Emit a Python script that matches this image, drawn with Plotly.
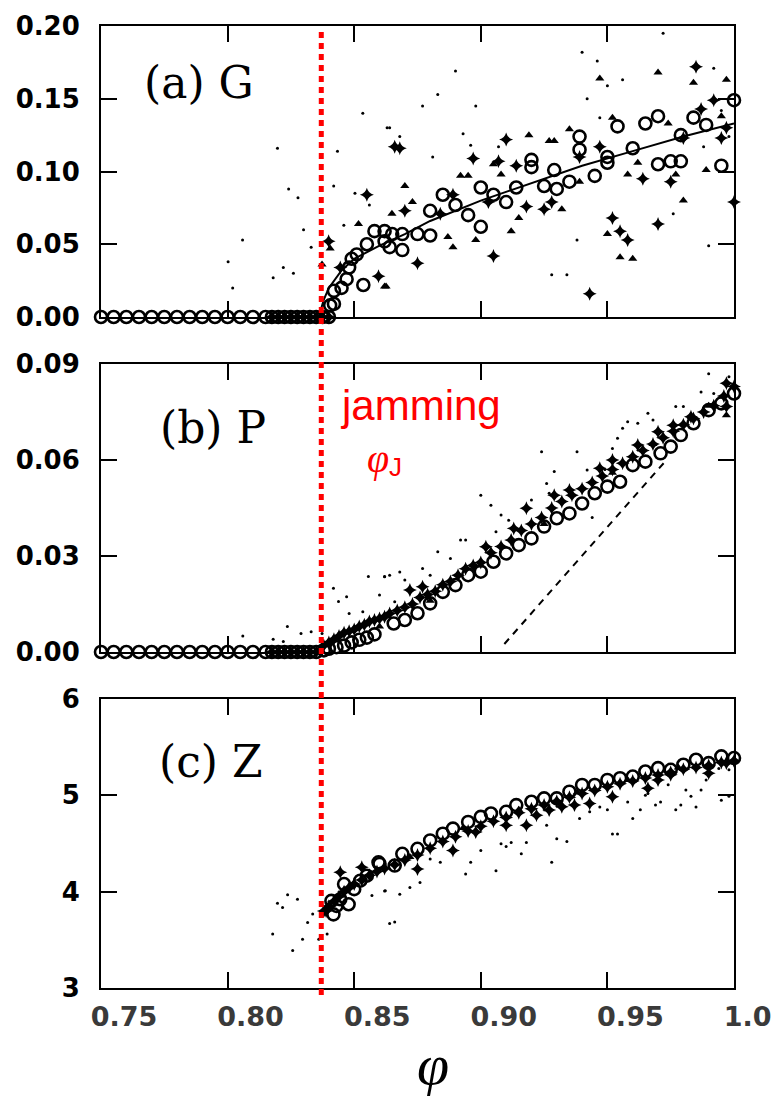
import plotly.graph_objects as go

# ---------------- Panel (a) G ----------------
a_circ_x = [0.750, 0.755, 0.760, 0.765, 0.770, 0.775, 0.780, 0.785, 0.790, 0.795, 0.800, 0.805,
            0.810, 0.815, 0.8175, 0.820, 0.8225, 0.825, 0.8275, 0.830, 0.8325, 0.835, 0.8375, 0.840,
            0.8405, 0.842, 0.842, 0.845, 0.847, 0.848, 0.849, 0.851, 0.8536, 0.855, 0.858, 0.862, 0.865,
            0.862, 0.864, 0.869, 0.869, 0.875, 0.880, 0.880, 0.885, 0.890, 0.895, 0.900, 0.900,
            0.905, 0.910, 0.914, 0.920, 0.920, 0.925, 0.929, 0.930, 0.935, 0.939, 0.939, 0.945,
            0.950, 0.950, 0.954, 0.960, 0.965, 0.970, 0.970, 0.975, 0.979, 0.979, 0.984, 0.989,
            0.995, 1.000]
a_circ_y = [0, 0, 0, 0, 0, 0, 0, 0, 0, 0, 0, 0,
            0, 0, 0, 0, 0, 0, 0, 0, 0, 0, 0, 0,
            0.008, 0.009, 0.018, 0.020, 0.026, 0.034, 0.040, 0.043, 0.022, 0.050, 0.059, 0.052, 0.057,
            0.059, 0.048, 0.046, 0.057, 0.057, 0.056, 0.073, 0.084, 0.077, 0.070, 0.089, 0.062,
            0.084, 0.079, 0.089, 0.108, 0.103, 0.090, 0.101, 0.088, 0.093, 0.124, 0.115, 0.097,
            0.110, 0.106, 0.131, 0.116, 0.133, 0.138, 0.105, 0.107, 0.107, 0.125, 0.137, 0.132,
            0.104, 0.149]

a_tri_x = [0.8373, 0.8405, 0.8517, 0.8626, 0.8649, 0.862, 0.870, 0.873, 0.887, 0.889, 0.892, 0.895,
           0.898, 0.905, 0.908, 0.912, 0.915, 0.919, 0.927, 0.929, 0.932, 0.935, 0.939, 0.947,
           0.950, 0.952, 0.955, 0.958, 0.960, 0.962, 0.970, 0.974, 0.977, 0.980, 0.984, 0.989,
           0.995, 0.997]
a_tri_y = [0.036, 0.047, 0.064, 0.021, 0.071, 0.021, 0.090, 0.079, 0.055, 0.048, 0.097, 0.097,
           0.053, 0.105, 0.098, 0.059, 0.068, 0.125, 0.121, 0.121, 0.074, 0.129, 0.093, 0.164,
           0.057, 0.137, 0.041, 0.098, 0.040, 0.106, 0.168, 0.133, 0.098, 0.080, 0.161, 0.101,
           0.138, 0.163]

a_cross_x = [0.8175, 0.820, 0.8225, 0.825, 0.8275, 0.830, 0.8325, 0.835, 0.8375, 0.840,
             0.8399, 0.8445, 0.8596, 0.855, 0.866, 0.868, 0.870, 0.875, 0.884, 0.889, 0.897,
             0.903, 0.905, 0.907, 0.910, 0.914, 0.918, 0.925, 0.928, 0.939, 0.943, 0.947,
             0.952, 0.955, 0.958, 0.964, 0.970, 0.975, 0.980, 0.985, 0.987, 0.992, 0.995,
             0.997, 1.000]
a_cross_y = [0, 0, 0, 0, 0, 0, 0, 0, 0, 0,
             0.052, 0.034, 0.028, 0.084, 0.117, 0.116, 0.073, 0.037, 0.071, 0.084, 0.109,
             0.079, 0.042, 0.107, 0.122, 0.104, 0.076, 0.074, 0.079, 0.110, 0.016, 0.117,
             0.068, 0.059, 0.053, 0.095, 0.064, 0.093, 0.123, 0.172, 0.143, 0.149, 0.123,
             0.130, 0.079]

a_dot_x = [0.8534, 0.863, 0.8434, 0.8419, 0.8241, 0.8278, 0.8197, 0.8059, 0.830, 0.833, 0.8002,
           0.802, 0.818, 0.822, 0.826, 0.8459, 0.8503, 0.856, 0.864, 0.868, 0.877, 0.883,
           0.890, 0.898, 0.881, 0.893, 0.896, 0.907, 0.940, 0.946, 0.950, 0.956, 0.942,
           0.928, 0.934, 0.938, 0.972, 0.976, 0.990, 0.992, 0.988, 0.995, 0.998, 0.947]
a_dot_y = [0.140, 0.130, 0.114, 0.090, 0.088, 0.082, 0.116, 0.053, 0.060, 0.048, 0.038,
           0.020, 0.027, 0.034, 0.030, 0.063, 0.085, 0.077, 0.130, 0.124, 0.145, 0.153,
           0.169, 0.145, 0.110, 0.126, 0.118, 0.117, 0.182, 0.176, 0.159, 0.163, 0.150,
           0.029, 0.029, 0.053, 0.195, 0.071, 0.049, 0.171, 0.117, 0.142, 0.124, 0.137]

a_fit_x = [0.836, 0.838, 0.840, 0.845, 0.850, 0.860, 0.870, 0.880, 0.900, 0.920, 0.940, 0.960, 0.980, 1.000]
a_fit_y = [0.000, 0.012, 0.020, 0.032, 0.040, 0.049, 0.057, 0.066, 0.080, 0.092, 0.104, 0.114, 0.124, 0.133]

# ---------------- Panel (b) P ----------------
b_circ_x = [0.750, 0.755, 0.760, 0.765, 0.770, 0.775, 0.780, 0.785, 0.790, 0.795, 0.800, 0.805,
            0.810, 0.815, 0.8175, 0.820, 0.8225, 0.825, 0.8275, 0.830, 0.8325, 0.835,
            0.838, 0.840, 0.843, 0.846, 0.849, 0.852, 0.855, 0.858, 0.8656, 0.870, 0.875, 0.880,
            0.885, 0.890, 0.895, 0.900, 0.905, 0.910, 0.915, 0.920, 0.925, 0.930, 0.935, 0.940,
            0.945, 0.950, 0.955, 0.960, 0.965, 0.971, 0.975, 0.979, 0.984, 0.990, 0.995, 1.000]
b_circ_y = [0, 0, 0, 0, 0, 0, 0, 0, 0, 0, 0, 0,
            0, 0, 0, 0, 0, 0, 0, 0, 0, 0,
            0.0005, 0.001, 0.0015, 0.002, 0.003, 0.0038, 0.0045, 0.0055, 0.0089, 0.0100, 0.0121, 0.0152,
            0.0188, 0.0209, 0.0240, 0.0251, 0.0282, 0.0308, 0.0334, 0.0355, 0.0392, 0.0418, 0.0433, 0.0464,
            0.0496, 0.0517, 0.0532, 0.0584, 0.0595, 0.0621, 0.0642, 0.0678, 0.0715, 0.0756, 0.0777, 0.0808]

b_cross_x = [0.8175, 0.820, 0.8225, 0.825, 0.8275, 0.830, 0.8325, 0.835,
             0.838, 0.840, 0.842, 0.844, 0.846, 0.848, 0.850, 0.852, 0.854, 0.856, 0.858, 0.860,
             0.862, 0.864, 0.867, 0.870, 0.873, 0.876, 0.879, 0.882, 0.885, 0.888, 0.891, 0.894,
             0.897, 0.900, 0.904, 0.908, 0.912, 0.916, 0.920, 0.924, 0.928, 0.932, 0.936, 0.940,
             0.944, 0.948, 0.952, 0.956, 0.960, 0.964, 0.968, 0.972, 0.976, 0.980, 0.984, 0.988,
             0.992, 0.996, 1.000,
             0.872, 0.877, 0.902, 0.913, 0.918, 0.929, 0.935, 0.947, 0.952, 0.962, 0.970, 0.976,
             0.983, 0.997, 0.997]
b_cross_y = [0, 0, 0, 0, 0, 0, 0, 0,
             0.002, 0.003, 0.004, 0.005, 0.006, 0.0065, 0.007, 0.008, 0.0085, 0.0095, 0.010, 0.0105,
             0.011, 0.012, 0.013, 0.014, 0.015, 0.017, 0.018, 0.019, 0.021, 0.022, 0.024, 0.026,
             0.027, 0.028, 0.031, 0.033, 0.035, 0.038, 0.040, 0.042, 0.045, 0.047, 0.049, 0.051,
             0.053, 0.055, 0.057, 0.059, 0.061, 0.063, 0.065, 0.067, 0.069, 0.071, 0.073, 0.075,
             0.077, 0.080, 0.083,
             0.0194, 0.0204, 0.0329, 0.0386, 0.0449, 0.0490, 0.0506, 0.0574, 0.0600, 0.0647, 0.0688, 0.0709,
             0.0735, 0.0840, 0.0767]

b_tri_x = [0.997, 0.990, 0.968, 0.952, 0.925, 0.900, 0.880, 0.860]
b_tri_y = [0.0740, 0.0770, 0.0650, 0.0560, 0.0400, 0.0270, 0.0160, 0.0080]

b_dot_x = [0.990, 0.998, 0.987, 0.992, 0.977, 0.980, 0.966, 0.958, 0.962, 0.968, 0.956, 0.954,
           0.952, 0.942, 0.938, 0.924, 0.929, 0.926, 0.927, 0.920, 0.900, 0.904, 0.908, 0.911,
           0.906, 0.892, 0.894, 0.883, 0.888, 0.877, 0.880, 0.868, 0.862, 0.864, 0.870, 0.866,
           0.944, 0.949, 0.8418, 0.8438, 0.847, 0.8556, 0.862, 0.8534, 0.848, 0.8373,
           0.8236, 0.806, 0.818, 0.822, 0.829, 0.833, 0.860]
b_dot_y = [0.0870, 0.0860, 0.0813, 0.0808, 0.0767, 0.0767, 0.0746, 0.0720, 0.0715, 0.0725, 0.0699, 0.0668,
           0.0636, 0.0569, 0.0626, 0.0626, 0.0564, 0.0527, 0.0496, 0.0475, 0.0490, 0.0459, 0.0428, 0.0412,
           0.0376, 0.0350, 0.0350, 0.0313, 0.0292, 0.0261, 0.0240, 0.0250, 0.0235, 0.0240, 0.0225, 0.0157,
           0.0420, 0.0570, 0.0199, 0.0158, 0.0173, 0.0236, 0.0236, 0.0126, 0.0120, 0.0058,
           0.0080, 0.0050, 0.0040, 0.0033, 0.0058, 0.0063, 0.0178]

b_dash_x = [0.9093, 0.9722]
b_dash_y = [0.0025, 0.0590]

# ---------------- Panel (c) Z ----------------
c_circ_x = [0.8418, 0.841, 0.843, 0.8445, 0.846, 0.8478, 0.850, 0.8524, 0.855, 0.8596,
            0.860, 0.866, 0.869, 0.875, 0.880, 0.885, 0.889, 0.895, 0.900, 0.904, 0.910, 0.914,
            0.920, 0.925, 0.930, 0.935, 0.940, 0.945, 0.950, 0.955, 0.960, 0.965, 0.970, 0.975,
            0.980, 0.985, 0.990, 0.995, 1.000]
c_circ_y = [3.764, 3.904, 3.852, 3.921, 4.079, 3.869, 4.026, 4.114, 4.166, 4.305,
            4.288, 4.271, 4.393, 4.445, 4.532, 4.602, 4.655, 4.724, 4.777, 4.812, 4.829, 4.899,
            4.934, 4.969, 4.969, 5.038, 5.108, 5.108, 5.160, 5.178, 5.195, 5.248, 5.283, 5.265,
            5.318, 5.370, 5.335, 5.405, 5.387]

c_cross_x = [0.838, 0.840, 0.842, 0.844, 0.846, 0.848, 0.850, 0.853, 0.856, 0.859, 0.862, 0.866,
             0.870, 0.875, 0.880, 0.885, 0.890, 0.895, 0.900, 0.905, 0.910, 0.915, 0.920, 0.925,
             0.930, 0.935, 0.940, 0.945, 0.950, 0.955, 0.960, 0.965, 0.970, 0.975, 0.980, 0.985,
             0.990, 0.995, 1.000,
             0.8389, 0.8445, 0.853, 0.875, 0.889, 0.898, 0.910, 0.918, 0.922, 0.927, 0.932, 0.937,
             0.943, 0.952, 0.966, 0.970, 0.975, 0.990, 0.997]
c_cross_y = [3.80, 3.85, 3.90, 3.95, 4.00, 4.04, 4.08, 4.12, 4.17, 4.21, 4.24, 4.28,
             4.33, 4.38, 4.45, 4.52, 4.57, 4.63, 4.68, 4.73, 4.77, 4.82, 4.86, 4.90,
             4.94, 4.98, 5.02, 5.05, 5.09, 5.12, 5.15, 5.18, 5.21, 5.24, 5.27, 5.29,
             5.31, 5.34, 5.36,
             3.799, 4.201, 4.253, 4.236, 4.428, 4.619, 4.690, 4.690, 4.794, 4.847, 4.882, 4.899,
             4.916, 4.986, 5.073, 5.160, 5.213, 5.230, 5.335]

c_tri_x = [0.846, 0.872, 0.893, 0.915, 0.938, 0.958, 0.978, 0.996]
c_tri_y = [4.02, 4.36, 4.66, 4.85, 5.03, 5.16, 5.29, 5.33]

c_dot_x = [0.8197, 0.8217, 0.8237, 0.8276, 0.8178, 0.8257, 0.8296, 0.8316, 0.8336, 0.836,
           0.8393, 0.857, 0.8623, 0.864, 0.866, 0.862, 0.868, 0.872, 0.876, 0.880, 0.884,
           0.894, 0.896, 0.900, 0.906, 0.908, 0.910, 0.912, 0.916, 0.918, 0.926, 0.928,
           0.930, 0.934, 0.939, 0.943, 0.947, 0.950, 0.952, 0.954, 0.958, 0.960, 0.963,
           0.965, 0.966, 0.969, 0.971, 0.974, 0.977, 0.979, 0.981, 0.983, 0.985, 0.987,
           0.989, 0.995, 0.998, 0.998, 0.994]
c_dot_y = [3.88, 3.835, 3.968, 3.922, 3.56, 3.389, 3.507, 3.681, 3.769, 3.507,
           3.56, 3.96, 4.01, 3.67, 3.684, 4.008, 3.973, 4.043, 4.095, 4.340, 4.305,
           4.183, 4.305, 4.428, 4.218, 4.497, 4.47, 4.51, 4.393, 4.51, 4.69, 4.305,
           4.55, 4.52, 4.76, 4.83, 4.88, 4.85, 4.60, 4.60, 4.93, 4.76, 4.85,
           5.00, 5.02, 4.90, 4.93, 5.11, 4.85, 4.90, 5.055, 4.99, 4.88, 5.055,
           5.16, 4.95, 4.99, 5.265, 5.28]

phi_J = 0.837

# ---------------- figure ----------------
fig = go.Figure()

circ = dict(symbol="circle-open", size=12, color="black", line=dict(width=2.6, color="black"))
tri = dict(symbol="triangle-up", size=8, color="black")
crs = dict(symbol="star-diamond", size=10, color="black")
dot = dict(symbol="circle", size=3, color="black")


def add_panel(xa, ya, cx, cy, tx, ty, sx, sy, dx, dy):
    fig.add_trace(go.Scatter(x=dx, y=dy, mode="markers", marker=dot, xaxis=xa, yaxis=ya, cliponaxis=False))
    fig.add_trace(go.Scatter(x=sx, y=sy, mode="markers", marker=crs, xaxis=xa, yaxis=ya, cliponaxis=False))
    fig.add_trace(go.Scatter(x=tx, y=ty, mode="markers", marker=tri, xaxis=xa, yaxis=ya, cliponaxis=False))
    fig.add_trace(go.Scatter(x=cx, y=cy, mode="markers", marker=circ, xaxis=xa, yaxis=ya, cliponaxis=False))


add_panel("x", "y", a_circ_x, a_circ_y, a_tri_x, a_tri_y, a_cross_x, a_cross_y, a_dot_x, a_dot_y)
fig.add_trace(go.Scatter(x=a_fit_x, y=a_fit_y, mode="lines", line=dict(color="black", width=2),
                         xaxis="x", yaxis="y"))
add_panel("x2", "y2", b_circ_x, b_circ_y, b_tri_x, b_tri_y, b_cross_x, b_cross_y, b_dot_x, b_dot_y)
fig.add_trace(go.Scatter(x=b_dash_x, y=b_dash_y, mode="lines",
                         line=dict(color="black", width=2, dash="7px,6px"), xaxis="x2", yaxis="y2"))
add_panel("x3", "y3", c_circ_x, c_circ_y, c_tri_x, c_tri_y, c_cross_x, c_cross_y, c_dot_x, c_dot_y)

axis_common = dict(showline=True, linecolor="black", linewidth=2, mirror="ticks", ticks="inside",
                   ticklen=16, tickwidth=2, tickcolor="black", showgrid=False, zeroline=False,
                   automargin=False)
xcommon = dict(axis_common, range=[0.75, 1.0], tick0=0.75, dtick=0.05)
ytick_font = dict(family="DejaVu Sans", size=26, color="black", weight="bold")

fig.update_layout(
    template="none",
    width=771, height=1097,
    margin=dict(l=101, r=37, t=26, b=109, autoexpand=False),
    paper_bgcolor="white", plot_bgcolor="white",
    showlegend=False,
    xaxis=dict(xcommon, anchor="y", showticklabels=False),
    xaxis2=dict(xcommon, anchor="y2", showticklabels=False),
    xaxis3=dict(xcommon, anchor="y3", showticklabels=True, tickformat=".2f",
                tickfont=dict(family="DejaVu Sans", size=27, color="#3a3a3a", weight="bold"),
                ticklabelshift=23, ticklabelstandoff=4, ticklabeloverflow="allow"),
    yaxis=dict(axis_common, domain=[0.6975, 1.0], range=[0, 0.2], dtick=0.05, tickformat=".2f",
               tickfont=ytick_font, ticklabelstandoff=14),
    yaxis2=dict(axis_common, domain=[0.3493, 0.6486], range=[0, 0.09], dtick=0.03, tickformat=".2f",
                tickfont=ytick_font, ticklabelstandoff=14),
    yaxis3=dict(axis_common, domain=[0.0, 0.3004], range=[3, 6], dtick=1,
                tickfont=ytick_font, ticklabelstandoff=14),
)

# red dotted jamming line spanning all panels
fig.add_shape(type="line", xref="x3", yref="paper", x0=phi_J, x1=phi_J, y0=-0.0073, y1=0.9958,
              line=dict(color="#ff0000", width=5, dash="6px,5px"), layer="above")

serif = "DejaVu Serif"
ann = [
    dict(text="(a)\u00a0G", x=0.065, y=0.941),
    dict(text="(b)\u00a0P", x=0.090, y=0.583),
    dict(text="(c)\u00a0Z", x=0.088, y=0.235),
]
for a in ann:
    fig.add_annotation(text=a["text"], xref="paper", yref="paper", x=a["x"], y=a["y"],
                       xanchor="left", yanchor="middle", showarrow=False,
                       font=dict(family=serif, size=44, color="black"))

fig.add_annotation(text="jamming", xref="paper", yref="paper", x=(338 - 101) / 633, y=(988 - 405) / 962,
                   xanchor="left", yanchor="middle", showarrow=False,
                   font=dict(family="Liberation Sans, Arial", size=42, color="#ff0000"))
fig.add_annotation(text="φ", xref="paper", yref="paper", x=(365 - 101) / 633, y=(988 - 458) / 962,
                   xanchor="left", yanchor="middle", showarrow=False,
                   font=dict(family="Liberation Serif", size=40, color="#ff0000", style="italic"))
fig.add_annotation(text="J", xref="paper", yref="paper", x=(387 - 101) / 633, y=(988 - 467) / 962,
                   xanchor="left", yanchor="middle", showarrow=False,
                   font=dict(family="Liberation Sans, Arial", size=26, color="#ff0000"))
fig.add_annotation(text="φ", xref="paper", yref="paper", x=(433 - 101) / 633, y=(988 - 1064) / 962,
                   xanchor="center", yanchor="middle", showarrow=False,
                   font=dict(family="Liberation Serif", size=58, color="black", style="italic"))

fig.write_html("out.html")
